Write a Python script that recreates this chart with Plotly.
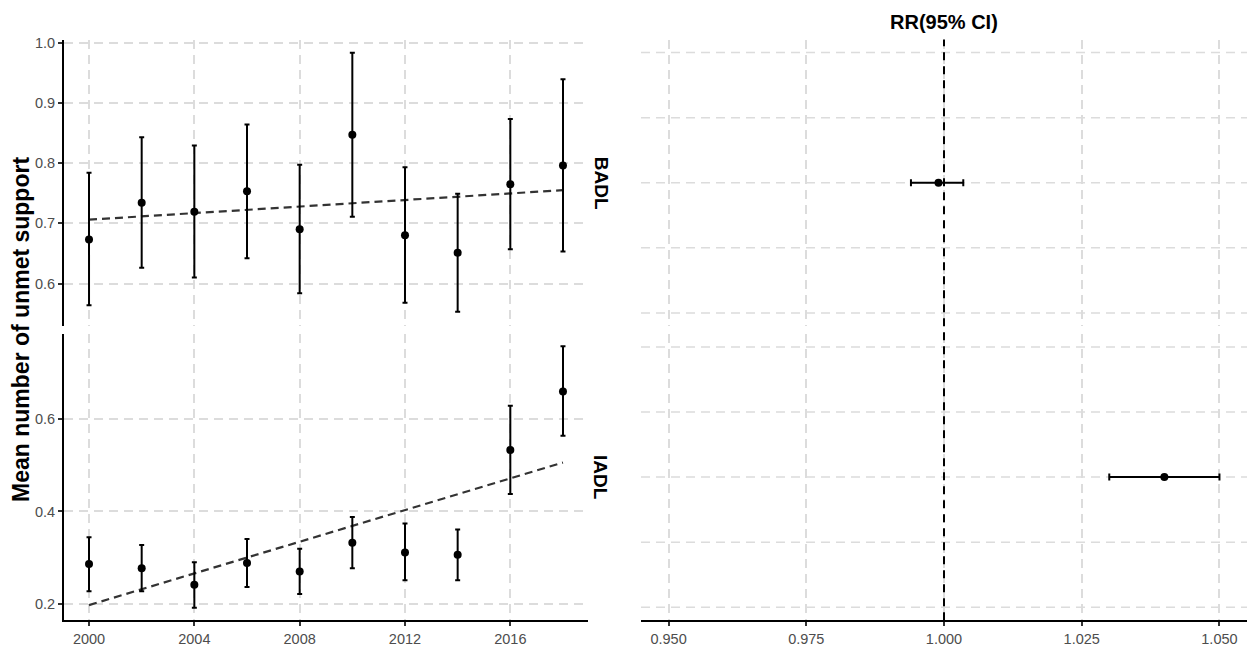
import plotly.graph_objects as go

# ---------------- data ----------------
years = [2000, 2002, 2004, 2006, 2008, 2010, 2012, 2014, 2016, 2018]

badl_mean = [0.673, 0.734, 0.719, 0.753, 0.690, 0.847, 0.680, 0.651, 0.765, 0.796]
badl_low  = [0.564, 0.626, 0.610, 0.642, 0.584, 0.711, 0.568, 0.553, 0.657, 0.653]
badl_high = [0.784, 0.843, 0.829, 0.864, 0.797, 0.983, 0.793, 0.749, 0.873, 0.939]

iadl_mean = [0.286, 0.277, 0.241, 0.288, 0.270, 0.332, 0.311, 0.306, 0.533, 0.660]
iadl_low  = [0.227, 0.227, 0.191, 0.236, 0.221, 0.277, 0.251, 0.251, 0.438, 0.564]
iadl_high = [0.344, 0.327, 0.290, 0.340, 0.319, 0.388, 0.374, 0.361, 0.629, 0.758]

trend_years = [2000, 2018]
badl_trend = [0.706, 0.755]
iadl_trend = [0.197, 0.506]

outcomes = ["BADL", "IADL"]
rr = [0.999, 1.040]
rr_low = [0.994, 1.030]
rr_high = [1.0035, 1.050]

badl_ticks = [0.6, 0.7, 0.8, 0.9, 1.0]
iadl_ticks = [0.2, 0.4, 0.6]
year_ticks = [2000, 2004, 2008, 2012, 2016]
rr_ticks = [0.950, 0.975, 1.000, 1.025, 1.050]
rr_tick_text = ["0.950", "0.975", "1.000", "1.025", "1.050"]

# ---------------- layout geometry ----------------
W, H = 1247, 647
def fx(px):
    return px / W
def fy(py):
    return 1 - py / H

left_dom = [fx(64), fx(588)]
right_dom = [fx(641), 1.0]
top_dom = [fy(325), fy(35)]
bot_dom = [fy(623), fy(333)]

FONT = "Liberation Sans, Arial, sans-serif"
GRID = "#DCDCDC"
TICKC = "#4D4D4D"
TICKFS = 14.5

fig = go.Figure()

def add_panel(mean, low, high, trend, xa, ya):
    fig.add_trace(go.Scatter(
        x=trend_years, y=trend, mode="lines",
        line=dict(color="#333333", width=2.2, dash="8px,5px"),
        xaxis=xa, yaxis=ya, showlegend=False, hoverinfo="skip"))
    fig.add_trace(go.Scatter(
        x=years, y=mean, mode="markers",
        marker=dict(color="black", size=8),
        error_y=dict(type="data", symmetric=False,
                     array=[h - m for h, m in zip(high, mean)],
                     arrayminus=[m - l for m, l in zip(mean, low)],
                     color="black", thickness=2, width=2.5),
        xaxis=xa, yaxis=ya, showlegend=False))

add_panel(badl_mean, badl_low, badl_high, badl_trend, "x", "y")
add_panel(iadl_mean, iadl_low, iadl_high, iadl_trend, "x2", "y2")

# forest plot: each outcome in its own facet, centred row
for i, (xa, ya) in enumerate([("x3", "y3"), ("x4", "y4")]):
    fig.add_trace(go.Scatter(
        x=[rr[i]], y=[outcomes[i]], mode="markers",
        marker=dict(color="black", size=8),
        error_x=dict(type="data", symmetric=False,
                     array=[rr_high[i] - rr[i]],
                     arrayminus=[rr[i] - rr_low[i]],
                     color="black", thickness=2, width=3.5),
        xaxis=xa, yaxis=ya, showlegend=False))

xcommon = dict(range=[1999.05, 2018.95], tickvals=year_ticks,
               showgrid=True, gridcolor=GRID, griddash="9px,6px", gridwidth=1.5,
               zeroline=False, tickfont=dict(family=FONT, size=TICKFS, color=TICKC))
ycommon = dict(showgrid=True, gridcolor=GRID, griddash="9px,6px", gridwidth=1.5,
               zeroline=False, showline=True, linecolor="black", linewidth=2,
               ticks="outside", ticklen=4, tickwidth=1.5, tickcolor="#333333",
               tickfont=dict(family=FONT, size=TICKFS, color=TICKC))

rxcommon = dict(range=[0.945, 1.055], tickvals=rr_ticks,
                showgrid=True, gridcolor=GRID, griddash="9px,6px", gridwidth=1.5,
                zeroline=False, domain=right_dom,
                tickfont=dict(family=FONT, size=TICKFS, color=TICKC))
rycommon = dict(type="category", range=[-1.1, 1.1], showticklabels=False,
                showgrid=False, zeroline=False, showline=False, ticks="")

fig.update_layout(
    width=W, height=H, margin=dict(l=0, r=0, t=0, b=0),
    paper_bgcolor="white", plot_bgcolor="white", showlegend=False,
    xaxis=dict(**xcommon, domain=left_dom, anchor="y", showticklabels=False,
               showline=False, ticks=""),
    yaxis=dict(**ycommon, domain=top_dom, anchor="x", range=[0.5295, 1.005],
               tickvals=badl_ticks, ticktext=["0.6", "0.7", "0.8", "0.9", "1.0"]),
    xaxis2=dict(**xcommon, domain=left_dom, anchor="y2", matches="x",
                showline=True, linecolor="black", linewidth=2,
                ticks="outside", ticklen=4, tickwidth=1.5, tickcolor="#333333"),
    yaxis2=dict(**ycommon, domain=bot_dom, anchor="x2", range=[0.164, 0.785],
                tickvals=iadl_ticks, ticktext=["0.2", "0.4", "0.6"]),
    xaxis3=dict(**rxcommon, anchor="y3", showticklabels=False, showline=False, ticks=""),
    yaxis3=dict(**rycommon, domain=top_dom, anchor="x3"),
    xaxis4=dict(**rxcommon, anchor="y4", matches="x3", ticktext=rr_tick_text,
                showline=True, linecolor="black", linewidth=2,
                ticks="outside", ticklen=4, tickwidth=1.5, tickcolor="#333333"),
    yaxis4=dict(**rycommon, domain=bot_dom, anchor="x4"),
)

# horizontal dashed guide lines in the forest facets (major + minor rows)
for ya, dom in [("y3", top_dom), ("y4", bot_dom)]:
    for frac in [-1, -0.5, 0, 0.5, 1]:
        yy = dom[0] + (frac + 1.1) / 2.2 * (dom[1] - dom[0])
        fig.add_shape(type="line", xref="paper", yref="paper",
                      x0=right_dom[0], x1=right_dom[1], y0=yy, y1=yy,
                      line=dict(color=GRID, width=1.5, dash="9px,6px"), layer="below")

# reference line at RR = 1
fig.add_shape(type="line", xref="x3", yref="paper", x0=1.0, x1=1.0,
              y0=bot_dom[0], y1=top_dom[1],
              line=dict(color="black", width=2, dash="8px,6px"))

# strip labels
for lab, dom in [("BADL", top_dom), ("IADL", bot_dom)]:
    fig.add_annotation(text="<b>%s</b>" % lab, xref="paper", yref="paper",
                       x=fx(601), y=(dom[0] + dom[1]) / 2, showarrow=False,
                       xanchor="center", yanchor="middle",
                       textangle=90, font=dict(family=FONT, size=19, color="black"))

# y-axis title
fig.add_annotation(text="<b>Mean number of unmet support</b>", xref="paper", yref="paper",
                   x=fx(21), y=(bot_dom[0] + top_dom[1]) / 2, showarrow=False,
                   xanchor="center", yanchor="middle",
                   textangle=-90, font=dict(family=FONT, size=23, color="black"))

# forest title
fig.add_annotation(text="<b>RR(95% CI)</b>", xref="paper", yref="paper",
                   x=(right_dom[0] + right_dom[1]) / 2, y=fy(17), showarrow=False,
                   xanchor="center", yanchor="middle",
                   font=dict(family=FONT, size=20, color="black"))

fig.write_html("out.html", config={"displayModeBar": False},
               post_script="document.body.style.margin='0';document.body.style.overflow='hidden';")
